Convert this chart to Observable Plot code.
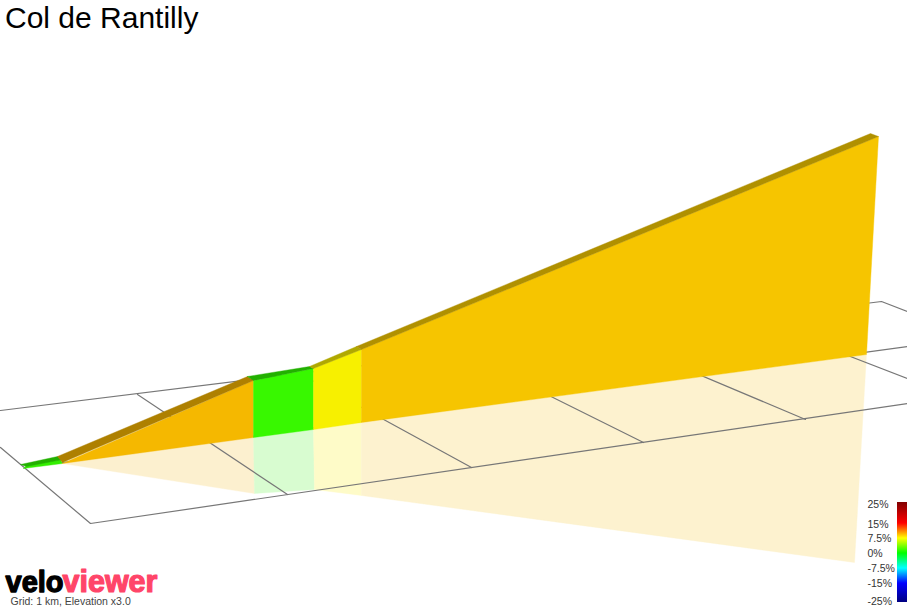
<!DOCTYPE html>
<html>
<head>
<meta charset="utf-8">
<title>Col de Rantilly</title>
<script src="https://cdn.jsdelivr.net/npm/d3@7"></script>
<script src="https://cdn.jsdelivr.net/npm/@observablehq/plot@0.6"></script>
<style>
  html, body { margin: 0; padding: 0; background: #fff; overflow: hidden; }
  #wrap { position: relative; width: 907px; height: 607px; }
  #title { position: absolute; left: 5px; top: 1px; font: 30px/34px "Liberation Sans", Arial, sans-serif; color: #000; }
  svg { display: block; }
</style>
</head>
<body>
<div id="wrap"><div id="title">Col de Rantilly</div><div id="chart"></div></div>
<script>
// Ground grid: [x, y] end points in the picture's own frame
const gridLines = [
  [[0, 410], [881, 301], [907, 311]],
  [[0, 447], [90, 523], [907, 403]],
  [[62, 462], [907, 346]],
  [[137, 394], [287, 494]],
  [[299, 373], [471, 467]],
  [[460, 351], [643, 442]],
  [[620, 341], [805, 419]],
  [[780, 329], [907, 378]]
];

// Gradient faces along the climb
const segmentNames = ["lead-in", "ramp", "flat", "step", "climb"];
const wallColors   = ["#33ee00", "#f5b800", "#38f800", "#f7f000", "#f6c500"];
const capColors    = ["#22b000", "#ae8000", "#22b000", "#b0a800", "#b09000"];
const shadowColors = ["#ffffff", "#fcf0cf", "#d8fcd0", "#fefbc8", "#fdf2cf"];

const wallFaces = [
  [[23, 468], [26, 465], [60, 459], [62, 463]],
  [[62, 463], [253, 380], [253, 437]],
  [[253, 380], [313, 368], [313, 429], [253, 437]],
  [[313, 368], [361, 349], [361, 422], [313, 429]],
  [[361, 349], [878, 136], [866, 354], [361, 422]]
];
const capFaces = [
  [[20, 464], [57, 456], [62, 459], [26, 466]],
  [[57, 456], [247, 376], [253, 380], [62, 462]],
  [[247, 376], [309, 366], [313, 368], [253, 380]],
  [[309, 366], [356, 346], [361, 349], [313, 368]],
  [[356, 346], [870, 133], [878, 136], [361, 349]]
];
const shadowFaces = [
  [],
  [[62, 463], [253, 437], [254, 493]],
  [[253, 437], [313, 429], [314, 489], [254, 493]],
  [[313, 429], [361, 422], [361, 495], [314, 489]],
  [[361, 422], [866, 354], [854, 562], [361, 495]]
];

// Legend
const gradeLabels = ["25%", "15%", "7.5%", "0%", "-7.5%", "-15%", "-25%"];
const gradeLabelY = [504, 524, 538, 553, 568, 583, 601];
const gradeStopY  = [502, 523, 538, 553, 568, 583, 602];
const gradeStops  = ["#800000", "#ff0000", "#ffff00", "#00ff00", "#00ffff", "#0000ff", "#000080"];

const gradeColor = d3.scaleLinear().domain(gradeStopY).range(gradeStops).interpolate(d3.interpolateRgb);
const legendRows = d3.range(502, 602).map((y) => ({y1: y, y2: y + 1, fill: gradeColor(y + 0.5)}));

const toRows = (faces, colors) => faces.flatMap((pts, i) =>
  pts.concat(pts.slice(0, 1)).map(([x, y]) => ({x, y, id: segmentNames[i], color: colors[i]})));
const lineRows = gridLines.flatMap((pts, i) => pts.map(([x, y]) => ({x, y, id: i})));

const poly = (rows) => Plot.line(rows, {x: "x", y: "y", z: "id", fill: "color", stroke: "color", strokeWidth: 0.4});

const plot = Plot.plot({
  width: 907, height: 607,
  marginTop: 0, marginRight: 0, marginBottom: 0, marginLeft: 0,
  style: {background: "#fff"},
  x: {axis: null, domain: [0, 907], range: [0, 907]},
  y: {axis: null, domain: [0, 607], range: [0, 607]},
  color: {type: "identity"},
  marks: [
    poly(toRows(shadowFaces, shadowColors)),
    Plot.line(lineRows, {x: "x", y: "y", z: "id", stroke: "#777", strokeWidth: 1.2}),
    poly(toRows(wallFaces, wallColors)),
    poly(toRows(capFaces, capColors)),
    Plot.rect(legendRows, {x1: () => 897, x2: () => 907, y1: "y1", y2: "y2", fill: "fill"}),
    Plot.text(gradeLabels, {x: () => 867, y: (d, i) => gradeLabelY[i], text: (d) => d, textAnchor: "start",
      fontFamily: "Liberation Sans, Arial, sans-serif", fontSize: 10.5, fill: "#333"}),
    Plot.text(["velo"], {x: () => 5, y: () => 591, text: (d) => d, textAnchor: "start", lineAnchor: "bottom",
      fontFamily: "Liberation Sans, Arial, sans-serif", fontWeight: "bold", fontSize: 29, fill: "#000", stroke: "#000", strokeWidth: 1.3}),
    Plot.text(["viewer"], {x: () => 62, y: () => 591, text: (d) => d, textAnchor: "start", lineAnchor: "bottom",
      fontFamily: "Liberation Sans, Arial, sans-serif", fontWeight: "bold", fontSize: 30.5, fill: "#ff4569", stroke: "#ff4569", strokeWidth: 1.2}),
    Plot.text(["Grid: 1 km, Elevation x3.0"], {x: () => 10, y: () => 604, text: (d) => d, textAnchor: "start", lineAnchor: "bottom",
      fontFamily: "Liberation Sans, Arial, sans-serif", fontSize: 10.5, fill: "#444"})
  ]
});
document.getElementById("chart").appendChild(plot);
</script>
</body>
</html>
